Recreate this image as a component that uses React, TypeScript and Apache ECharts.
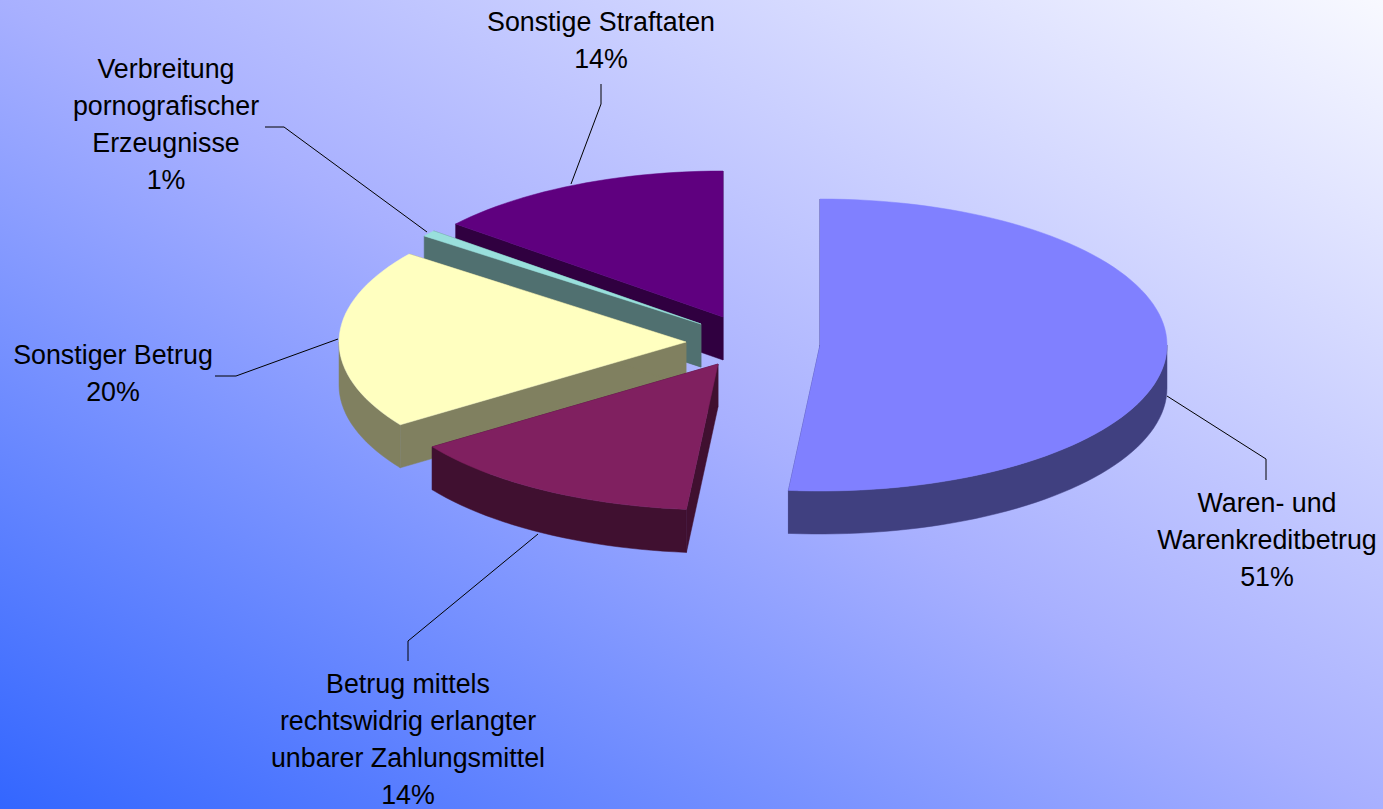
import React, { useEffect, useRef } from "react";
import * as echarts from "echarts";

const categories = [
  "Waren- und\nWarenkreditbetrug",
  "Betrug mittels\nrechtswidrig erlangter\nunbarer Zahlungsmittel",
  "Sonstiger Betrug",
  "Verbreitung\npornografischer\nErzeugnisse",
  "Sonstige Straftaten",
];
const shares = [51.45, 13.95, 19.9, 0.7, 14.0];
const topColors = ["#8080ff", "#802060", "#ffffc0", "#99dfdc", "#5f007f"];
const sideColors = ["#404080", "#401030", "#808060", "#507070", "#300040"];

// Layout of the exploded 3-D pie (projection parameters, not data)
const centers = [[820, 345], [718, 364], [686, 342], [701, 324], [723, 317]];
const RX = 347;
const RY = 146;
const DEPTH = 43;
const leaders = [
  [[1167, 396], [1266, 459], [1266, 480]],
  [[538, 534], [408, 641], [408, 661]],
  [[338, 339], [236, 376], [215, 376]],
  [[427, 232], [284, 127], [265, 127]],
  [[571, 184], [601, 104], [601, 84]],
];
const labelAnchors = [
  [1267, 503],
  [408, 684],
  [113, 355],
  [166, 69],
  [601, 22],
];
const LINE_H = 37;

const total = shares.reduce((a, b) => a + b, 0);
const startAngles: number[] = [];
shares.reduce((acc, v, i) => {
  startAngles[i] = acc;
  return acc + (v / total) * 360;
}, 0);

function rim(c: number[], deg: number, dy = 0) {
  const t = (deg * Math.PI) / 180;
  return [c[0] + RX * Math.sin(t), c[1] - RY * Math.cos(t) + dy];
}

function arc(c: number[], a: number, b: number, dy = 0) {
  const pts: number[][] = [];
  const n = Math.max(2, Math.ceil((b - a) / 2));
  for (let i = 0; i <= n; i++) pts.push(rim(c, a + ((b - a) * i) / n, dy));
  return pts;
}

function poly(points: number[][], color: string) {
  return { type: "polygon", shape: { points }, style: { fill: color, stroke: color, lineWidth: 0.5 } };
}

function renderSlice(_params: any, api: any) {
  const i = api.value(0);
  const value = api.value(1);
  const c = centers[i];
  const a = startAngles[i];
  const b = a + (value / total) * 360;
  const side = sideColors[i];
  const top = topColors[i];
  const children: any[] = [];
  const cut = (deg: number) => {
    const p = rim(c, deg);
    return poly([c, p, [p[0], p[1] + DEPTH], [c[0], c[1] + DEPTH]], side);
  };
  children.push(cut(a), cut(b));
  const wa = Math.max(a, 90);
  const wb = Math.min(b, 270);
  if (wb > wa) {
    children.push(poly([...arc(c, wa, wb), ...arc(c, wa, wb, DEPTH).reverse()], side));
  }
  children.push(poly([c, ...arc(c, a, b)], top));
  children.push({
    type: "polyline",
    shape: { points: leaders[i] },
    style: { fill: "none", stroke: "#000000", lineWidth: 1 },
  });
  const lines = [...categories[i].split("\n"), `${Math.round((value / total) * 100)}%`];
  lines.forEach((line, k) => {
    children.push({
      type: "text",
      style: {
        text: line,
        x: labelAnchors[i][0],
        y: labelAnchors[i][1] + k * LINE_H,
        align: "center",
        verticalAlign: "middle",
        fontFamily: "Liberation Sans",
        fontSize: 26.8,
        fill: "#000000",
      },
    });
  });
  return { type: "group", children };
}

export default function App() {
  const ref = useRef<HTMLDivElement>(null);
  useEffect(() => {
    document.body.style.margin = "0";
    const chart = echarts.init(ref.current!, undefined, { renderer: "svg" });
    const drawOrder = [4, 3, 2, 1, 0];
    chart.setOption({
      animation: false,
      backgroundColor: "transparent",
      series: [
        {
          type: "custom",
          coordinateSystem: "none",
          renderItem: renderSlice,
          encode: { value: 1 },
          data: drawOrder.map((i) => [i, shares[i]]),
        },
      ],
    });
    return () => chart.dispose();
  }, []);
  return (
    <div
      ref={ref}
      style={{
        width: 1383,
        height: 809,
        background: "linear-gradient(to top right, #3366ff 0%, #a8b0ff 50%, #f8f9ff 100%)",
      }}
    />
  );
}
